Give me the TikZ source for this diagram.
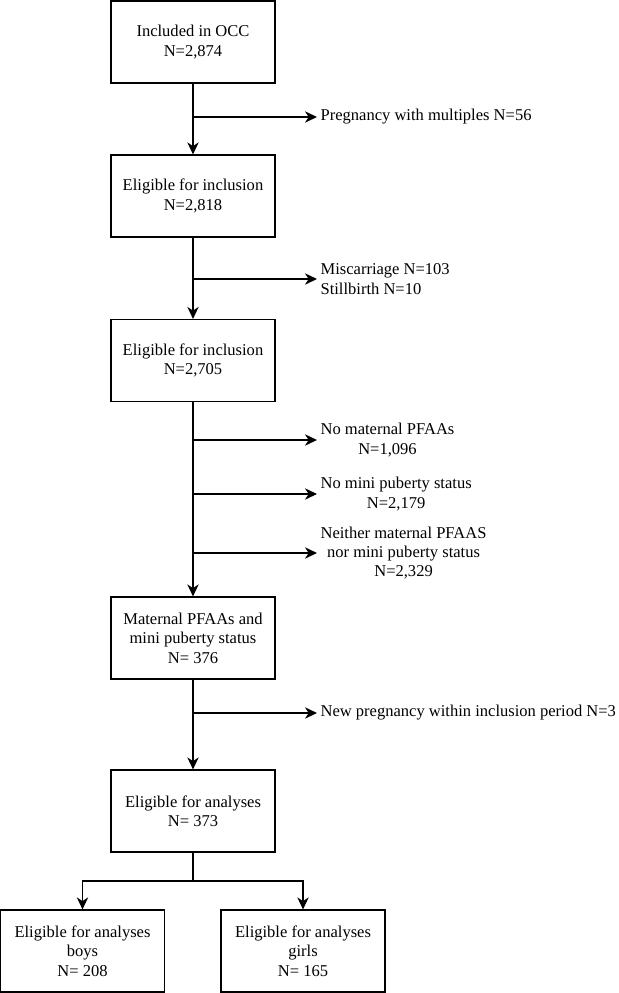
\documentclass[tikz,border=0pt]{standalone}
\usepackage{fontspec}
\setmainfont{Liberation Serif}
\usetikzlibrary{arrows.meta}
\begin{document}
\begin{tikzpicture}[x=0.75pt, y=-0.75pt, font=\fontsize{12.4}{14.6}\selectfont,
    box/.style={draw, line width=0.9pt, minimum width=123pt, minimum height=61.5pt, align=center},
    side/.style={anchor=west, inner sep=2.5pt, align=center},
    arr/.style={line width=0.9pt, -{Stealth[length=9pt,width=8.5pt,inset=2.8pt]}}]
    \useasboundingbox (0,0) rectangle (618,993);
    % main boxes
    \node[box] (occ) at (193,42) {Included in OCC\\N=2,874};
    \node[box] (elig1) at (193,196) {Eligible for inclusion\\N=2,818};
    \node[box] (elig2) at (193,360.5) {Eligible for inclusion\\N=2,705};
    \node[box] (pfaa) at (193,638) {Maternal PFAAs and\\mini puberty status\\N= 376};
    \node[box] (anal) at (193,811) {Eligible for analyses\\N= 373};
    \node[box] (boys) at (82.5,951) {Eligible for analyses\\boys\\N= 208};
    \node[box] (girls) at (303,951) {Eligible for analyses\\girls\\N= 165};
    % exclusions
    \node[side] (multi) at (317,117) {Pregnancy with multiples N=56};
    \node[side, align=left] (miscar) at (317,279) {Miscarriage N=103\\Stillbirth N=10};
    \node[side] (nopfaa) at (317,440) {No maternal PFAAs\\N=1,096};
    \node[side] (nomini) at (317,494) {No mini puberty status\\N=2,179};
    \node[side] (neither) at (317,553) {Neither maternal PFAAS\\nor mini puberty status\\N=2,329};
    \node[side] (newpreg) at (317,713) {New pregnancy within inclusion period N=3};
    \coordinate (c1) at (193,117);
    \coordinate (c2) at (193,279);
    \coordinate (c3) at (193,440);
    \coordinate (c4) at (193,494);
    \coordinate (c5) at (193,553);
    \coordinate (c6) at (193,713);
    \coordinate (split) at (193,881);
    % connectors
    \draw[arr] (occ) -- (elig1);
    \draw[arr] (elig1) -- (elig2);
    \draw[arr] (elig2) -- (pfaa);
    \draw[arr] (pfaa) -- (anal);
    \draw[arr] (c1) -- (multi);
    \draw[arr] (c2) -- (miscar);
    \draw[arr] (c3) -- (nopfaa);
    \draw[arr] (c4) -- (nomini);
    \draw[arr] (c5) -- (neither);
    \draw[arr] (c6) -- (newpreg);
    \draw[line width=0.9pt] (anal) -- (split);
    \draw[arr] (split) -| (boys);
    \draw[arr] (split) -| (girls);
\end{tikzpicture}
\end{document}
